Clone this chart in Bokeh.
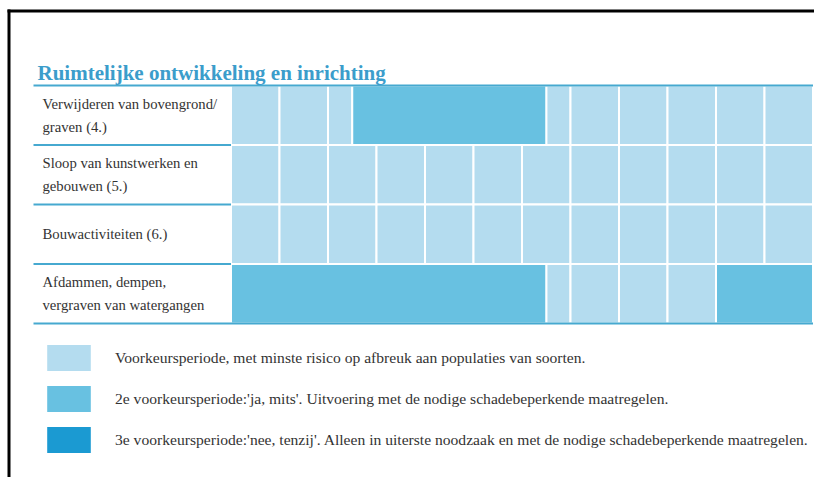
from bokeh.plotting import figure
from bokeh.models import Range1d, ColumnDataSource, Label, Legend, LegendItem
from bokeh.core.properties import value
from bokeh.embed import file_html
from bokeh.resources import INLINE

# ---------------- data ----------------
title_text = "Ruimtelijke ontwikkeling en inrichting"
row_labels = [
    "Verwijderen van bovengrond/\ngraven (4.)",
    "Sloop van kunstwerken en\ngebouwen (5.)",
    "Bouwactiviteiten (6.)",
    "Afdammen, dempen,\nvergraven van watergangen",
]
# preference level per half month (24 halves, Jan..Dec); 1 = light, 2 = medium, 3 = dark
row1_levels = [1] * 5 + [2] * 8 + [1] * 11
row2_levels = [1] * 24
row3_levels = [1] * 24
row4_levels = [2] * 13 + [1] * 7 + [2] * 4
levels = [row1_levels, row2_levels, row3_levels, row4_levels]
legend_labels = [
    "Voorkeursperiode, met minste risico op afbreuk aan populaties van soorten.",
    "2e voorkeursperiode:'ja, mits'. Uitvoering met de nodige schadebeperkende maatregelen.",
    "3e voorkeursperiode:'nee, tenzij'. Alleen in uiterste noodzaak en met de nodige schadebeperkende maatregelen.",
]
level_colors = {1: "#b4dcef", 2: "#68c1e1", 3: "#1b9ad2"}

# ---------------- layout helpers ----------------
W, H = 814, 477
X0, MW = 230.5, 48.5      # x of month 0, pixel width per month
Y0, RH = 85.0, 59.5       # y of row 0 top, pixel height per row
def px(xp):
    return (xp - X0) / MW
def py(yp):
    return (yp - Y0) / RH

p = figure(width=W, height=H, output_backend="svg", toolbar_location=None,
           x_range=Range1d(px(0), px(W)), y_range=Range1d(py(H), py(0)),
           min_border=0, x_axis_location=None, y_axis_location=None)
p.grid.visible = False
p.outline_line_color = None
p.background_fill_color = "white"
p.border_fill_color = "white"

# ---------------- build cells ----------------
cells = {1: dict(left=[], right=[], top=[], bottom=[]),
         2: dict(left=[], right=[], top=[], bottom=[]),
         3: dict(left=[], right=[], top=[], bottom=[])}
for r, lv in enumerate(levels):
    i = 0
    while i < 24:
        j = i + 1
        if lv[i] == 1:
            # light cells split at month boundaries
            while j < 24 and lv[j] == 1 and j % 2 != 0:
                j += 1
        else:
            while j < 24 and lv[j] == lv[i]:
                j += 1
        c = cells[lv[i]]
        c["left"].append(i / 2)
        c["right"].append(j / 2)
        c["top"].append(r)
        c["bottom"].append(r + 1)
        i = j

nan = float("nan")
rends = []
for k in (1, 2, 3):
    data = cells[k]
    if not data["left"]:
        # level not used in the grid: placeholder so the legend still shows its swatch
        data = dict(left=[nan], right=[nan], top=[nan], bottom=[nan])
    rends.append(p.quad(left="left", right="right", top="top", bottom="bottom",
                        source=ColumnDataSource(data), fill_color=level_colors[k],
                        line_color="white", line_width=2))

# ---------------- separator lines ----------------
line_col = "#46a9d0"
nrows = len(row_labels)
p.segment(x0=[px(33)] * (nrows + 1),
          x1=[12 if r in (0, nrows) else 0 for r in range(nrows + 1)],
          y0=list(range(nrows + 1)), y1=list(range(nrows + 1)),
          line_color=line_col, line_width=2.2)

# ---------------- row labels ----------------
p.text(x=[px(42)] * nrows, y=[r + 0.5 for r in range(nrows)], text=row_labels,
       text_font=value("Liberation Serif"), text_font_size="14.7px", text_color="#333333",
       text_baseline="middle", text_align="left", text_line_height=1.45)

# ---------------- title ----------------
p.add_layout(Label(x=px(37), y=py(72), text=title_text, text_font="Liberation Serif",
                   text_font_size="21px", text_font_style="bold", text_color="#3b9dcb",
                   text_baseline="alphabetic"))

# ---------------- black frame lines (top and left edge of the page scan) ----------------
p.segment(x0=[px(7), px(8.5)], x1=[px(W), px(8.5)], y0=[py(10.5), py(9)], y1=[py(10.5), py(H)],
          line_color="black", line_width=3)

# ---------------- legend ----------------
legend = Legend(items=[LegendItem(label=legend_labels[k], renderers=[rends[k]]) for k in range(3)],
                location=(40, 20), orientation="vertical", glyph_width=57, glyph_height=35,
                spacing=6, padding=0, margin=0, label_standoff=18,
                border_line_color=None, background_fill_alpha=0,
                label_text_font="Liberation Serif", label_text_font_size="15.6px",
                label_text_color="#333333", label_height=35)
p.add_layout(legend, "center")

open("out.html", "w").write(file_html(p, INLINE))
